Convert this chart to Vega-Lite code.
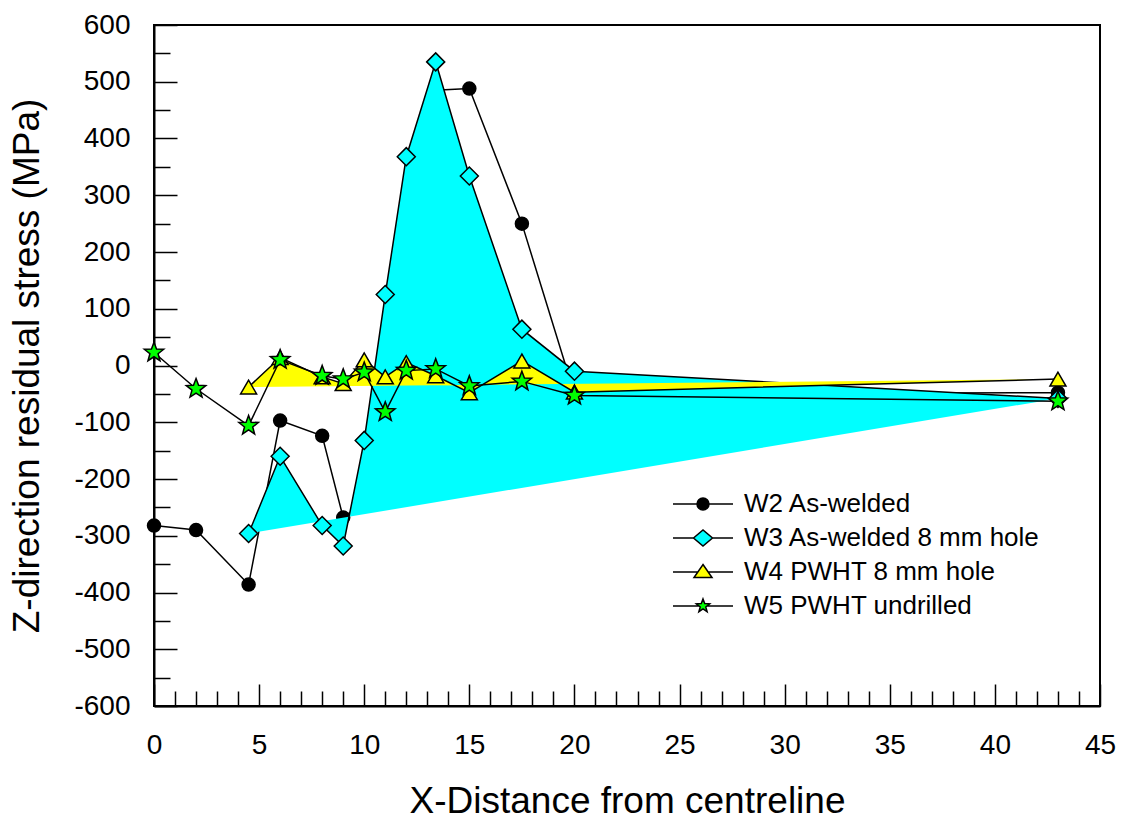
{
  "$schema": "https://vega.github.io/schema/vega-lite/v6.json",
  "width": 946,
  "height": 681,
  "autosize": "none",
  "padding": {"left": 154, "top": 25, "right": 22, "bottom": 117},
  "background": "white",
  "data": {"values": [
    {"s": "W2 As-welded", "i": 0, "x": 0, "y": -282},
    {"s": "W2 As-welded", "i": 1, "x": 2, "y": -290},
    {"s": "W2 As-welded", "i": 2, "x": 4.5, "y": -386},
    {"s": "W2 As-welded", "i": 3, "x": 6, "y": -97},
    {"s": "W2 As-welded", "i": 4, "x": 8, "y": -124},
    {"s": "W2 As-welded", "i": 5, "x": 9, "y": -268},
    {"s": "W2 As-welded", "i": 6, "x": 10, "y": -240},
    {"s": "W2 As-welded", "i": 7, "x": 11, "y": 0},
    {"s": "W2 As-welded", "i": 8, "x": 12, "y": 260},
    {"s": "W2 As-welded", "i": 9, "x": 13.4, "y": 485},
    {"s": "W2 As-welded", "i": 10, "x": 15, "y": 488},
    {"s": "W2 As-welded", "i": 11, "x": 17.5, "y": 250},
    {"s": "W2 As-welded", "i": 12, "x": 20, "y": -50},
    {"s": "W2 As-welded", "i": 13, "x": 43, "y": -48},
    {"s": "W3 As-welded 8 mm hole", "i": 0, "x": 4.5, "y": -296},
    {"s": "W3 As-welded 8 mm hole", "i": 1, "x": 6, "y": -160},
    {"s": "W3 As-welded 8 mm hole", "i": 2, "x": 8, "y": -282},
    {"s": "W3 As-welded 8 mm hole", "i": 3, "x": 9, "y": -318},
    {"s": "W3 As-welded 8 mm hole", "i": 4, "x": 10, "y": -132},
    {"s": "W3 As-welded 8 mm hole", "i": 5, "x": 11, "y": 125},
    {"s": "W3 As-welded 8 mm hole", "i": 6, "x": 12, "y": 368},
    {"s": "W3 As-welded 8 mm hole", "i": 7, "x": 13.4, "y": 535},
    {"s": "W3 As-welded 8 mm hole", "i": 8, "x": 15, "y": 334},
    {"s": "W3 As-welded 8 mm hole", "i": 9, "x": 17.5, "y": 64},
    {"s": "W3 As-welded 8 mm hole", "i": 10, "x": 20, "y": -10},
    {"s": "W3 As-welded 8 mm hole", "i": 11, "x": 43, "y": -58},
    {"s": "W4 PWHT 8 mm hole", "i": 0, "x": 4.5, "y": -38},
    {"s": "W4 PWHT 8 mm hole", "i": 1, "x": 6, "y": 14},
    {"s": "W4 PWHT 8 mm hole", "i": 2, "x": 8, "y": -20},
    {"s": "W4 PWHT 8 mm hole", "i": 3, "x": 9, "y": -32},
    {"s": "W4 PWHT 8 mm hole", "i": 4, "x": 10, "y": 10},
    {"s": "W4 PWHT 8 mm hole", "i": 5, "x": 11, "y": -20},
    {"s": "W4 PWHT 8 mm hole", "i": 6, "x": 12, "y": 5},
    {"s": "W4 PWHT 8 mm hole", "i": 7, "x": 13.4, "y": -18},
    {"s": "W4 PWHT 8 mm hole", "i": 8, "x": 15, "y": -48},
    {"s": "W4 PWHT 8 mm hole", "i": 9, "x": 17.5, "y": 8},
    {"s": "W4 PWHT 8 mm hole", "i": 10, "x": 20, "y": -47},
    {"s": "W4 PWHT 8 mm hole", "i": 11, "x": 43, "y": -24},
    {"s": "W5 PWHT undrilled", "i": 0, "x": 0, "y": 23},
    {"s": "W5 PWHT undrilled", "i": 1, "x": 2, "y": -41},
    {"s": "W5 PWHT undrilled", "i": 2, "x": 4.5, "y": -106},
    {"s": "W5 PWHT undrilled", "i": 3, "x": 6, "y": 10},
    {"s": "W5 PWHT undrilled", "i": 4, "x": 8, "y": -18},
    {"s": "W5 PWHT undrilled", "i": 5, "x": 9, "y": -24},
    {"s": "W5 PWHT undrilled", "i": 6, "x": 10, "y": -12},
    {"s": "W5 PWHT undrilled", "i": 7, "x": 11, "y": -82},
    {"s": "W5 PWHT undrilled", "i": 8, "x": 12, "y": -9},
    {"s": "W5 PWHT undrilled", "i": 9, "x": 13.4, "y": -6},
    {"s": "W5 PWHT undrilled", "i": 10, "x": 15, "y": -36},
    {"s": "W5 PWHT undrilled", "i": 11, "x": 17.5, "y": -28},
    {"s": "W5 PWHT undrilled", "i": 12, "x": 20, "y": -53},
    {"s": "W5 PWHT undrilled", "i": 13, "x": 43, "y": -63}
  ]},
  "encoding": {
    "x": {
      "field": "x", "type": "quantitative",
      "scale": {"domain": [0, 45], "nice": false, "zero": false},
      "axis": {
        "title": "X-Distance from centreline",
        "values": [0,1,2,3,4,5,6,7,8,9,10,11,12,13,14,15,16,17,18,19,20,21,22,23,24,25,26,27,28,29,30,31,32,33,34,35,36,37,38,39,40,41,42,43,44,45],
        "labelExpr": "datum.value % 5 === 0 ? '' + datum.value : ''",
        "tickSize": {"condition": {"test": "datum.value % 5 === 0", "value": -22}, "value": -15},
        "labelPadding": 47,
        "titlePadding": 17
      }
    },
    "y": {
      "field": "y", "type": "quantitative",
      "scale": {"domain": [-600, 600], "nice": false, "zero": false},
      "axis": {
        "title": "Z-direction residual stress (MPa)",
        "values": [-600,-550,-500,-450,-400,-350,-300,-250,-200,-150,-100,-50,0,50,100,150,200,250,300,350,400,450,500,550,600],
        "labelExpr": "datum.value % 100 === 0 ? '' + datum.value : ''",
        "tickSize": {"condition": {"test": "datum.value % 100 === 0", "value": -23}, "value": -16},
        "labelPadding": 47,
        "titlePadding": 27
      }
    },
    "order": {"field": "i", "type": "quantitative"}
  },
  "layer": [
    {"transform": [{"filter": {"field": "s", "equal": "W2 As-welded"}}],
     "mark": {"type": "line", "stroke": "black", "strokeWidth": 1.5}},
    {"transform": [{"filter": {"field": "s", "equal": "W2 As-welded"}}],
     "mark": {"type": "point", "shape": "circle", "filled": true, "fill": "black", "stroke": "black", "strokeWidth": 1.5, "size": 169, "opacity": 1}},
    {"transform": [{"filter": {"field": "s", "equal": "W3 As-welded 8 mm hole"}}],
     "mark": {"type": "line", "fill": "#00FFFF", "stroke": "#00FFFF", "strokeOpacity": 0, "strokeWidth": 0}},
    {"transform": [{"filter": {"field": "s", "equal": "W3 As-welded 8 mm hole"}}],
     "mark": {"type": "line", "stroke": "black", "strokeWidth": 1.5}},
    {"transform": [{"filter": {"field": "s", "equal": "W3 As-welded 8 mm hole"}}],
     "mark": {"type": "point", "shape": "diamond", "filled": true, "fill": "#00FFFF", "stroke": "black", "strokeWidth": 1.5, "size": 324, "opacity": 1}},
    {"transform": [{"filter": {"field": "s", "equal": "W4 PWHT 8 mm hole"}}],
     "mark": {"type": "line", "fill": "#FFFF00", "stroke": "#FFFF00", "strokeOpacity": 0, "strokeWidth": 0}},
    {"transform": [{"filter": {"field": "s", "equal": "W4 PWHT 8 mm hole"}}],
     "mark": {"type": "line", "stroke": "black", "strokeWidth": 1.5}},
    {"transform": [{"filter": {"field": "s", "equal": "W4 PWHT 8 mm hole"}}],
     "mark": {"type": "point", "shape": "triangle-up", "filled": true, "fill": "#FFFF00", "stroke": "black", "strokeWidth": 1.5, "size": 256, "opacity": 1}},
    {"transform": [{"filter": {"field": "s", "equal": "W5 PWHT undrilled"}}],
     "mark": {"type": "line", "stroke": "black", "strokeWidth": 1.5}},
    {"transform": [{"filter": {"field": "s", "equal": "W5 PWHT undrilled"}}],
     "mark": {"type": "point", "shape": "M0,-1L0.247,-0.34L0.951,-0.309L0.399,0.13L0.588,0.809L0,0.42L-0.588,0.809L-0.399,0.13L-0.951,-0.309L-0.247,-0.34Z", "filled": true, "fill": "#00FF00", "stroke": "black", "strokeWidth": 1.5, "size": 420, "opacity": 1}},
    {"mark": {"type": "point", "filled": true, "opacity": 0, "stroke": "black", "strokeWidth": 1.5},
     "encoding": {
       "shape": {"field": "s", "type": "nominal",
         "scale": {"domain": ["W2 As-welded", "W3 As-welded 8 mm hole", "W4 PWHT 8 mm hole", "W5 PWHT undrilled"],
           "range": [
             "M-3,0H-0.6M0.6,0H3M-0.6,0A0.6,0.6,0,1,1,0.6,0A0.6,0.6,0,1,1,-0.6,0Z",
             "M-3,0H-0.95M0.95,0H3M-0.95,0L0,-0.8L0.95,0L0,0.8Z",
             "M-3,0H-0.52M0.52,0H3M0,-0.75L0.9,0.55L-0.9,0.55Z",
             "M-3,0H-0.4M0.4,0H3M0,-0.7L0.173,-0.238L0.666,-0.216L0.279,0.091L0.412,0.566L0,0.294L-0.412,0.566L-0.279,0.091L-0.666,-0.216L-0.173,-0.238Z"
           ]},
         "legend": {"title": null, "orient": "none", "legendX": 536, "legendY": 466, "padding": 0,
           "symbolSize": 400, "symbolStrokeColor": "black", "symbolStrokeWidth": 1.5, "symbolOpacity": 1,
           "labelFont": "Liberation Sans", "labelFontSize": 26, "labelColor": "black", "labelOffset": 28,
           "rowPadding": 8, "labelLimit": 500,
           "encode": {"symbols": {"update": {"stroke": {"value": "black"}, "strokeWidth": {"value": 1.5}, "opacity": {"value": 1}, "strokeOpacity": {"value": 1}}}}}},
       "fill": {"field": "s", "type": "nominal",
         "scale": {"domain": ["W2 As-welded", "W3 As-welded 8 mm hole", "W4 PWHT 8 mm hole", "W5 PWHT undrilled"],
           "range": ["black", "#00FFFF", "#FFFF00", "#00FF00"]},
         "legend": {"title": null, "orient": "none", "legendX": 536, "legendY": 466, "padding": 0,
           "symbolSize": 400, "symbolStrokeColor": "black", "symbolStrokeWidth": 1.5, "symbolOpacity": 1,
           "labelFont": "Liberation Sans", "labelFontSize": 26, "labelColor": "black", "labelOffset": 28,
           "rowPadding": 8, "labelLimit": 500,
           "encode": {"symbols": {"update": {"stroke": {"value": "black"}, "strokeWidth": {"value": 1.5}, "opacity": {"value": 1}, "strokeOpacity": {"value": 1}}}}}}
     }}
  ],
  "resolve": {"scale": {"shape": "independent", "fill": "independent"}},
  "config": {
    "view": {"stroke": "black", "strokeWidth": 2},
    "axis": {
      "grid": false,
      "domainColor": "black", "domainWidth": 2,
      "tickColor": "black", "tickWidth": 1.5,
      "labelFont": "Liberation Sans", "labelFontSize": 28, "labelColor": "black",
      "labelOverlap": false, "labelFlush": false, "labelBound": false,
      "titleFont": "Liberation Sans", "titleFontSize": 37, "titleFontWeight": "normal", "titleColor": "black"
    }
  }
}
